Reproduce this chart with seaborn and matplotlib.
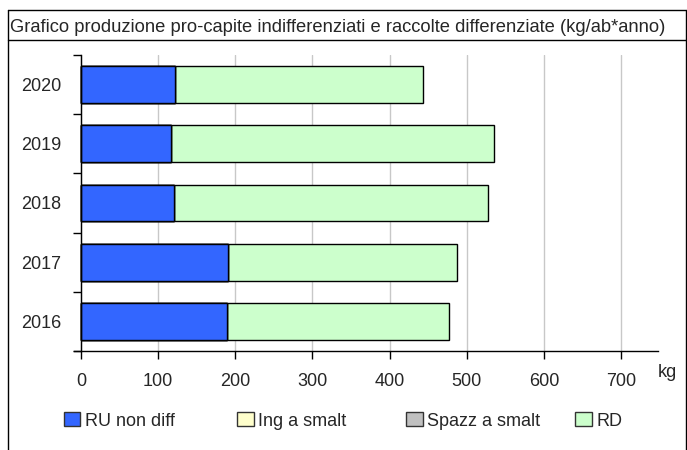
import pandas as pd
import matplotlib.pyplot as plt
import seaborn as sns
from matplotlib.patches import Patch
from matplotlib.lines import Line2D

# data (kg per inhabitant per year)
years = ['2020', '2019', '2018', '2017', '2016']
ru_non_diff = [122, 117, 120, 191, 189]
ing_a_smalt = [0, 0, 0, 0, 0]
spazz_a_smalt = [0, 0, 0, 0, 0]
rd = [322, 418, 407, 297, 288]

series_names = ['RU non diff', 'Ing a smalt', 'Spazz a smalt', 'RD']
series_colors = ['#3366FF', '#FFFFCC', '#C0C0C0', '#CCFFCC']
x_ticks = [0, 100, 200, 300, 400, 500, 600, 700]

sns.set_theme(style='white')
plt.rcParams['font.family'] = ['Liberation Sans', 'DejaVu Sans']
FS = 13

df = pd.DataFrame({'anno': years, 'RU non diff': ru_non_diff, 'Ing a smalt': ing_a_smalt,
                   'Spazz a smalt': spazz_a_smalt, 'RD': rd})
cum = df[series_names].cumsum(axis=1)
cum['anno'] = df['anno']

W, H = 687, 450
fig = plt.figure(figsize=(W / 100, H / 100), dpi=100)
ax = fig.add_axes([74 / W, 1 - 351 / H, (658 - 74) / W, (351 - 55) / H])

# stacked bars: draw the cumulative totals from the outside in
for name, col in reversed(list(zip(series_names, series_colors))):
    sns.barplot(data=cum, x=name, y='anno', order=years, orient='h', color=col,
                saturation=1, edgecolor='black', linewidth=1, width=0.62, ax=ax)

ax.set_xlim(-9, 748)
ax.set_ylim(4.5, -0.5)
ax.set_xlabel('')
ax.set_ylabel('')

ax.spines['top'].set_visible(False)
ax.spines['right'].set_visible(False)
ax.spines['left'].set_position(('data', 0))
for s in ['left', 'bottom']:
    ax.spines[s].set_color('black')
    ax.spines[s].set_linewidth(1)

ax.set_xticks(x_ticks)
ax.set_xticklabels([str(t) for t in x_ticks], fontsize=FS)
ax.tick_params(axis='x', direction='out', length=5.5, width=1, color='black', pad=10.5, bottom=True)

ax.set_yticks([i - 0.5 for i in range(len(years) + 1)])
ax.set_yticklabels([])
ax.set_yticks(range(len(years)), minor=True)
ax.set_yticklabels(years, minor=True, fontsize=FS)
ax.tick_params(axis='y', which='major', direction='out', length=6, width=1, color='black', left=True)
ax.tick_params(axis='y', which='minor', length=0, pad=14)

ax.grid(axis='x', color='#c8c8c8', linewidth=1)
ax.set_axisbelow(True)

fig.text(667 / W, 1 - 377 / H, 'kg', ha='center', va='baseline', fontsize=FS)

# title strip and outer frame
fig.text(10 / W, 1 - 31.5 / H, 'Grafico produzione pro-capite indifferenziati e raccolte differenziate (kg/ab*anno)',
         ha='left', va='baseline', fontsize=13.2)
frame = dict(color='black', linewidth=1, transform=fig.transFigure)
fig.add_artist(Line2D([7.5 / W, 686 / W], [1 - 10 / H, 1 - 10 / H], **frame))
fig.add_artist(Line2D([7.5 / W, 686 / W], [1 - 40 / H, 1 - 40 / H], **frame))
fig.add_artist(Line2D([7.5 / W, 7.5 / W], [0, 1 - 10 / H], **frame))
fig.add_artist(Line2D([686 / W, 686 / W], [0, 1 - 10 / H], **frame))

# legend entries evenly spaced like the original
legend_x = [63.5, 237, 406, 575]
for i, (name, col) in enumerate(zip(series_names, series_colors)):
    fig.legend(handles=[Patch(facecolor=col, edgecolor='#333333', linewidth=1)], labels=[name],
               loc='center left', bbox_to_anchor=(legend_x[i] / W, 1 - 421 / H), frameon=False,
               fontsize=FS, handlelength=0.94, handleheight=0.78, handletextpad=0.25,
               borderpad=0, borderaxespad=0)

fig.savefig('out.png', dpi=100)
